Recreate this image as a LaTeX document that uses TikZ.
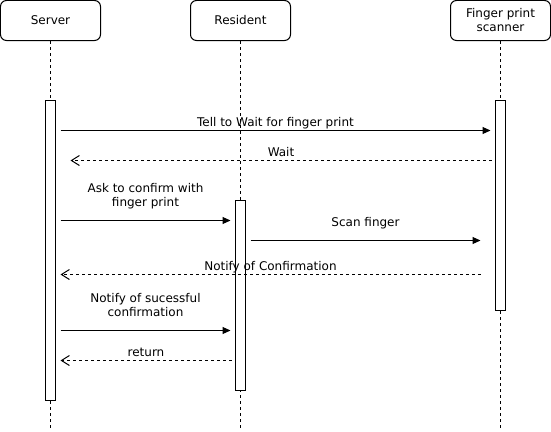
\documentclass[tikz,border=0pt]{standalone}
\usepackage{fontspec}
\setmainfont{DejaVu Sans}
\usetikzlibrary{arrows.meta}

\begin{document}
\begin{tikzpicture}
[x=1pt,y=-1pt,
  actorDecorate/.style={draw,line width=1pt,rounded corners=6pt,minimum width=100pt,minimum height=40pt,inner sep=0pt,align=center},
  lifeDecorate/.style={line width=1pt,dash pattern=on 3pt off 3pt},
  barDecorate/.style={draw,line width=1pt,fill=white,minimum width=10pt,inner sep=0pt},
  callDecorate/.style={line width=1pt,-{Triangle[length=8pt,width=7pt]}},
  replyDecorate/.style={line width=1pt,dash pattern=on 3pt off 3pt,-{Straight Barb[length=8pt,width=10pt]}},
  labelDecorate/.style={inner sep=0pt,anchor=base,align=center}]
\fontsize{12}{14}\selectfont
\useasboundingbox (-0.5,-0.5) rectangle (550.5,430.5);
%% participants and life lines
\foreach \nodename/\x/\txt in {
  server/50/Server,
  resident/240/Resident,
  scanner/500/{Finger print\\scanner}}
{
  \node (\nodename) at (\x,20) [actorDecorate] {\txt};
  \coordinate (\nodename end) at (\x,430);
  \draw[lifeDecorate] (\nodename) -- (\nodename end);
}
%% activation bars
\foreach \nodename/\x/\y/\h in {
  server/50/250/300,
  resident/240/295/190,
  scanner/500/205/210}
{
  \node (\nodename bar) at (\x,\y) [barDecorate,minimum height=\h pt] {};
}
%% message ends
\foreach \name/\x/\y in {
  tellA/60/130, tellB/490/130,
  waitA/491/160, waitB/70/160,
  askA/60/220, askB/230/220,
  scanA/250/240, scanB/480/240,
  confA/480/274, confB/60/274,
  doneA/60/330, doneB/230/330,
  backA/231/360, backB/60/360}
{
  \coordinate (\name) at (\x,\y);
}
%% messages
\path
\foreach \startnode/\endnode/\kind/\shift/\txt in {
  tellA/tellB/call/4/Tell to Wait for finger print,
  waitA/waitB/reply/4/Wait,
  askA/askB/call/14/{Ask to confirm with\\finger print},
  scanA/scanB/call/14/Scan finger,
  confA/confB/reply/4/Notify of Confirmation,
  doneA/doneB/call/14/{Notify of sucessful\\confirmation},
  backA/backB/reply/4/return}
{
  (\startnode) edge[\kind Decorate] node[labelDecorate,midway,yshift=\shift pt] {\txt} (\endnode)
};
\end{tikzpicture}
\end{document}
